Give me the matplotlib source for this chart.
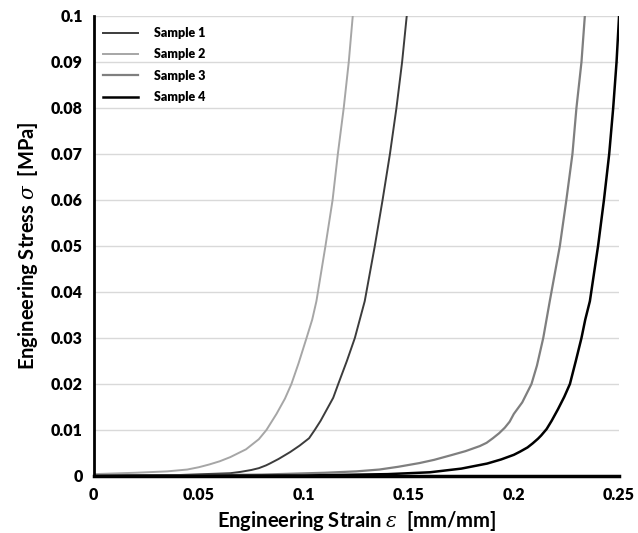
import matplotlib
matplotlib.use("Agg")
import matplotlib.pyplot as plt

# values
s1_strain = [0.0, 0.04, 0.065, 0.07, 0.075, 0.0786, 0.082, 0.0838, 0.088, 0.0935, 0.098,
             0.1025, 0.1052, 0.108, 0.111, 0.114, 0.1164, 0.1205, 0.1243, 0.129, 0.1338,
             0.1375, 0.141, 0.1441, 0.1468, 0.149]
s1_stress = [0.0001, 0.0002, 0.0006, 0.0009, 0.0013, 0.0017, 0.0023, 0.0027, 0.0037, 0.0052, 0.0066,
             0.0082, 0.0100, 0.0120, 0.0145, 0.0170, 0.0200, 0.0250, 0.0300, 0.0380, 0.0500,
             0.0600, 0.0700, 0.0800, 0.0900, 0.1000]

s2_strain = [0.0, 0.02, 0.035, 0.0445, 0.05, 0.055, 0.06, 0.065, 0.0725, 0.0786, 0.0822,
             0.087, 0.091, 0.0941, 0.0975, 0.1013, 0.104, 0.106, 0.1103, 0.1137, 0.1162,
             0.119, 0.1214, 0.1233]
s2_stress = [0.0004, 0.0007, 0.0010, 0.0014, 0.0019, 0.0025, 0.0032, 0.0041, 0.0058, 0.0080, 0.0100,
             0.0135, 0.0168, 0.0200, 0.0245, 0.0300, 0.0340, 0.0380, 0.0500, 0.0600, 0.0700,
             0.0800, 0.0900, 0.1000]

s3_strain = [0.0, 0.08, 0.11, 0.125, 0.136, 0.145, 0.155, 0.162, 0.17, 0.177, 0.1838, 0.187,
             0.19, 0.193, 0.1957, 0.198, 0.2, 0.204, 0.2084, 0.211, 0.214, 0.2171, 0.2219,
             0.225, 0.2279, 0.2298, 0.2322, 0.2338]
s3_stress = [0.0, 0.0003, 0.0007, 0.0010, 0.0014, 0.0020, 0.0028, 0.0035, 0.0045, 0.0054, 0.0065, 0.0072,
             0.0082, 0.0093, 0.0105, 0.0118, 0.0135, 0.0160, 0.0200, 0.0240, 0.0300, 0.0380, 0.0500,
             0.0600, 0.0700, 0.0800, 0.0900, 0.1000]

s4_strain = [0.0, 0.1, 0.14, 0.16, 0.175, 0.1873, 0.194, 0.2, 0.203, 0.2065, 0.209, 0.2115,
             0.213, 0.2156, 0.218, 0.221, 0.224, 0.2267, 0.2295, 0.2322, 0.234, 0.2362, 0.2401,
             0.2429, 0.2454, 0.2473, 0.2489, 0.2501]
s4_stress = [0.0, 0.0001, 0.0004, 0.0008, 0.0016, 0.0027, 0.0036, 0.0046, 0.0053, 0.0062, 0.0071, 0.0081,
             0.0088, 0.0102, 0.0120, 0.0145, 0.0172, 0.0200, 0.0250, 0.0300, 0.0340, 0.0380, 0.0500,
             0.0600, 0.0700, 0.0800, 0.0900, 0.1000]

labels = ["Sample 1", "Sample 2", "Sample 3", "Sample 4"]
x_ticks = [0, 0.05, 0.1, 0.15, 0.2, 0.25]
x_tick_labels = ["0", "0.05", "0.1", "0.15", "0.2", "0.25"]
y_ticks = [0, 0.01, 0.02, 0.03, 0.04, 0.05, 0.06, 0.07, 0.08, 0.09, 0.1]
y_tick_labels = ["0", "0.01", "0.02", "0.03", "0.04", "0.05", "0.06", "0.07", "0.08", "0.09", "0.1"]

plt.rcParams["font.family"] = ["Lato", "DejaVu Sans"]
plt.rcParams["mathtext.fontset"] = "custom"
plt.rcParams["mathtext.it"] = "DejaVu Serif:italic:normal"
plt.rcParams["mathtext.rm"] = "Lato:bold"

fig = plt.figure(figsize=(6.38, 5.33), dpi=100)
ax = fig.add_axes([0.147, 0.107, 0.823, 0.863])

ax.plot(s1_strain, s1_stress, color="#3c3c3c", lw=1.4, label=labels[0])
ax.plot(s2_strain, s2_stress, color="#a6a6a6", lw=1.4, label=labels[1])
ax.plot(s3_strain, s3_stress, color="#7f7f7f", lw=1.6, label=labels[2])
ax.plot(s4_strain, s4_stress, color="#000000", lw=1.8, label=labels[3])

ax.set_xlim(0, 0.25)
ax.set_ylim(0, 0.1)
ax.set_xticks(x_ticks)
ax.set_xticklabels(x_tick_labels)
ax.set_yticks(y_ticks)
ax.set_yticklabels(y_tick_labels)
ax.tick_params(length=0, labelsize=11.5, pad=8)
for lab in ax.get_xticklabels() + ax.get_yticklabels():
    lab.set_fontweight("heavy")

ax.yaxis.grid(True, color="#d9d9d9", lw=1)
ax.set_axisbelow(True)
ax.spines["top"].set_visible(False)
ax.spines["right"].set_visible(False)
ax.spines["left"].set_linewidth(2)
ax.spines["bottom"].set_linewidth(2.5)
ax.spines["bottom"].set_zorder(5)

ax.set_xlabel(r"Engineering Strain $\varepsilon$  [mm/mm]", fontsize=14.5, fontweight="bold", labelpad=4)
ax.set_ylabel(r"Engineering Stress $\sigma$  [MPa]", fontsize=14.5, fontweight="bold", labelpad=8)

leg = ax.legend(loc="upper left", frameon=False, fontsize=9, handlelength=2.8,
                handletextpad=1.3, labelspacing=0.75, borderaxespad=0.3,
                bbox_to_anchor=(0.0, 0.995))
for t in leg.get_texts():
    t.set_fontweight("heavy")

fig.savefig("out.png", dpi=100, facecolor="white")
